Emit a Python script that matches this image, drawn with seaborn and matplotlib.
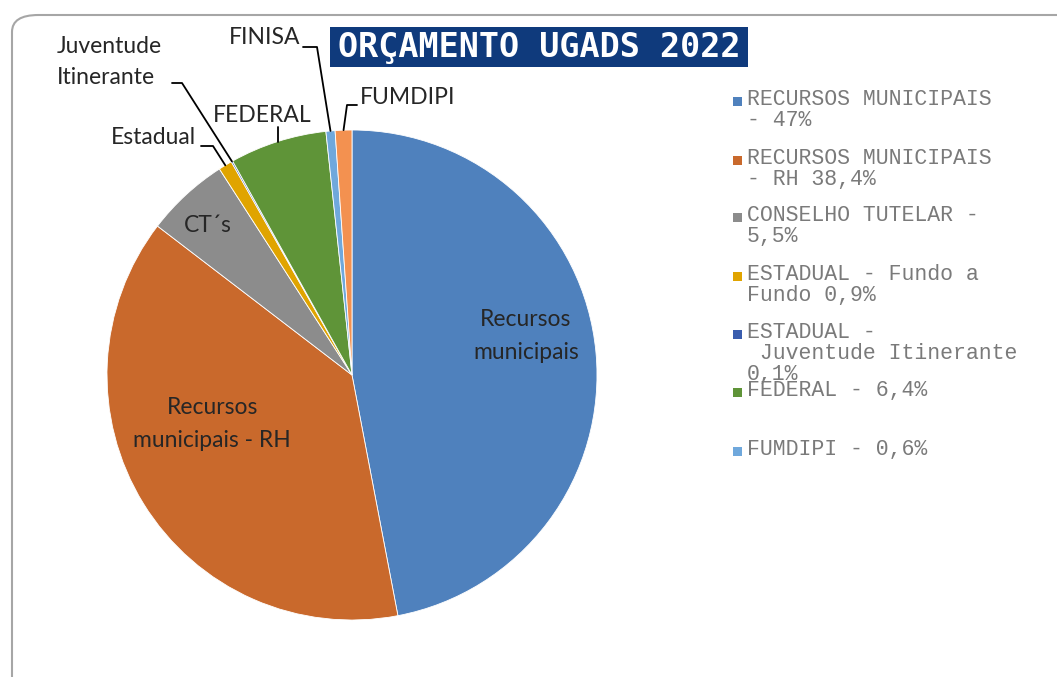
import seaborn as sns
import matplotlib.pyplot as plt
import numpy as np
from matplotlib.patches import FancyBboxPatch, Rectangle
from matplotlib.lines import Line2D

sns.set_theme(style="white")

# data
categories = ["Recursos municipais", "Recursos municipais - RH", "CT´s", "Estadual",
              "Juventude Itinerante", "FEDERAL", "FINISA", "FUMDIPI"]
values = [47, 38.4, 5.5, 0.9, 0.1, 6.4, 0.6, 1.1]
colors = ["#4F81BD", "#C9692C", "#8C8C8C", "#E0A400", "#3A5DAE", "#5F9438", "#6FA8DC", "#F39150"]

legend_labels = ["RECURSOS MUNICIPAIS\n- 47%", "RECURSOS MUNICIPAIS\n- RH 38,4%",
                 "CONSELHO TUTELAR -\n5,5%", "ESTADUAL - Fundo a\nFundo 0,9%",
                 "ESTADUAL -\n Juventude Itinerante\n0,1%", "FEDERAL - 6,4%", "FUMDIPI - 0,6%"]
legend_colors = ["#4F81BD", "#C9692C", "#8C8C8C", "#E0A400", "#3A5DAE", "#5F9438", "#6FA8DC"]

W, H = 1057, 677
fig = plt.figure(figsize=(W / 100, H / 100), dpi=100)
fig.patch.set_facecolor("white")


def px(x, y):
    return x / W, 1 - y / H


# outer rounded frame
frame = FancyBboxPatch(px(12, 700), (1100) / W, (700 - 15) / H,
                       boxstyle="round,pad=0,rounding_size=0.025",
                       transform=fig.transFigure, fc="none", ec="#A6A6A6", lw=1.5, zorder=-1)
fig.patches.append(frame)

cx, cy, r = 352, 375, 245
ax = fig.add_axes([(cx - r) / W, (H - cy - r) / H, 2 * r / W, 2 * r / H])
ax.patch.set_alpha(0)
wedges, _ = ax.pie(values, colors=colors, startangle=90, counterclock=False,
                   wedgeprops=dict(edgecolor="white", linewidth=0.6))
ax.set_xlim(-1, 1)
ax.set_ylim(-1, 1)
ax.axis("off")

label_font = dict(family=["Lato", "DejaVu Sans"], fontsize=16.5, color="#262626")


def edge_point(w, frac=1.0):
    a = np.deg2rad((w.theta1 + w.theta2) / 2)
    d = ax.transData.transform((frac * np.cos(a), frac * np.sin(a)))
    return d[0], H - d[1]


# inner labels
ax.text(0.71, 0.16, "Recursos\nmunicipais", ha="center", va="center", linespacing=1.7, **label_font)
ax.text(-0.57, -0.20, "Recursos\nmunicipais - RH", ha="center", va="center", linespacing=1.7, **label_font)
fig.text(*px(208, 226), "CT´s", ha="center", va="center", **label_font)

# outer labels with leader lines
fig.text(*px(57, 62), "Juventude\nItinerante", ha="left", va="center", linespacing=1.55, **label_font)
fig.text(*px(196, 138), "Estadual", ha="right", va="center", **label_font)
fig.text(*px(262, 115), "FEDERAL", ha="center", va="center", **label_font)
fig.text(*px(300, 38), "FINISA", ha="right", va="center", **label_font)
fig.text(*px(360, 98), "FUMDIPI", ha="left", va="center", **label_font)


def leader(points):
    xs = [p[0] / W for p in points]
    ys = [1 - p[1] / H for p in points]
    fig.add_artist(Line2D(xs, ys, transform=fig.transFigure, color="black", lw=1.3))


leader([(172, 83), (182, 83), edge_point(wedges[4])])
leader([(201, 146), (213, 146), edge_point(wedges[3])])
fx, fy = edge_point(wedges[5])
leader([(fx, 127), (fx, fy)])
leader([(303, 47), (317, 47), edge_point(wedges[6])])
leader([(357, 105), (347, 105), edge_point(wedges[7])])

# title box
fig.patches.append(Rectangle(px(330, 67), 418 / W, 40 / H, transform=fig.transFigure,
                             fc="#0F3A7C", ec="none", zorder=2))
fig.text(*px(539, 47), "ORÇAMENTO UGADS 2022", ha="center", va="center", color="white",
         family="DejaVu Sans Mono", fontsize=24, fontweight="bold", zorder=3)

# legend
legend_y = [101, 160, 217, 276, 334, 392, 451]
for lab, col, y in zip(legend_labels, legend_colors, legend_y):
    fig.patches.append(Rectangle(px(733, y + 5), 9 / W, 9 / H, transform=fig.transFigure,
                                 fc=col, ec="none", zorder=2))
    fig.text(*px(747, y - 12), lab, ha="left", va="top", color="#7A7A7A",
             family="Liberation Mono", fontsize=15.5, linespacing=1.0)

fig.savefig("out.png", dpi=100)
